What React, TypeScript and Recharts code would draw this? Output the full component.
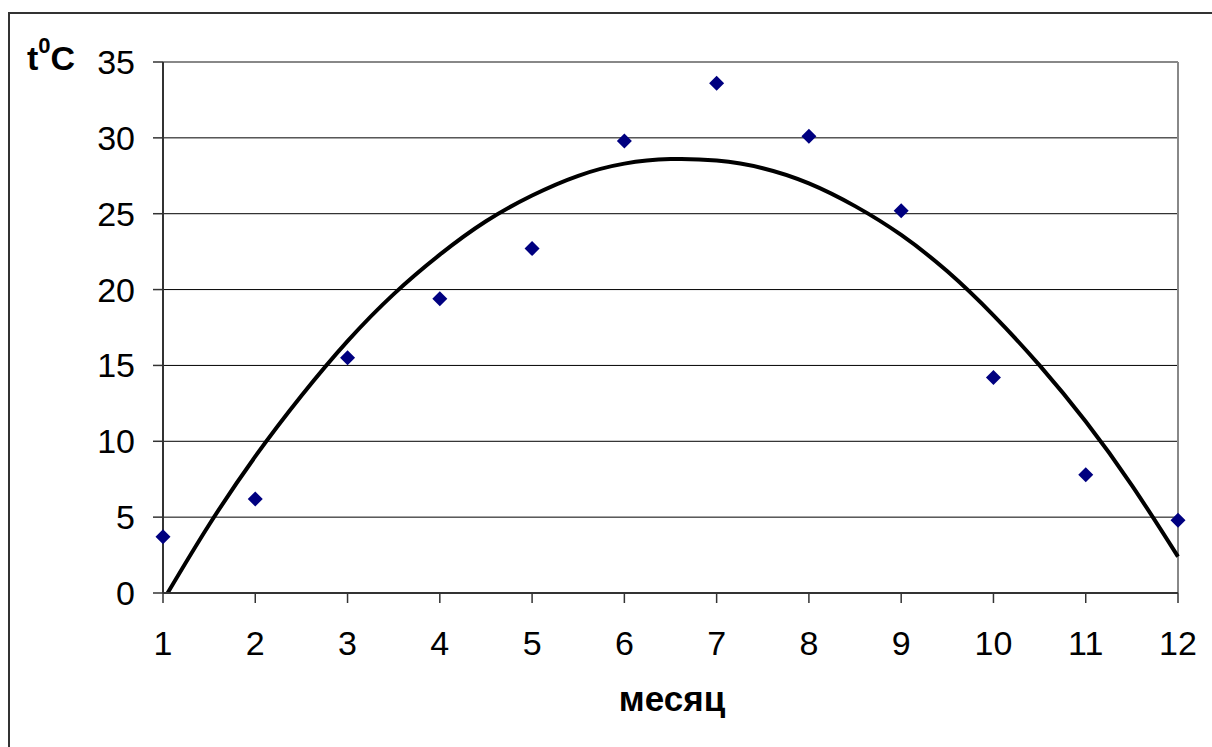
import React from 'react';
import {
  ComposedChart,
  Line,
  Scatter,
  XAxis,
  YAxis,
  CartesianGrid,
  ReferenceLine,
} from 'recharts';

// measured monthly temperatures
const months = [1, 2, 3, 4, 5, 6, 7, 8, 9, 10, 11, 12];
const temps = [3.7, 6.2, 15.5, 19.4, 22.7, 29.8, 33.6, 30.1, 25.2, 14.2, 7.8, 4.8];

// trend curve
const trendX = [1.05, 1.5, 2, 2.5, 3, 3.5, 4, 4.5, 5, 5.5, 6, 6.5, 7, 7.5, 8, 8.5, 9, 9.5, 10, 10.5, 11, 11.5, 12];
const trendY = [0, 4.5, 9.0, 13.0, 16.6, 19.7, 22.3, 24.5, 26.2, 27.5, 28.3, 28.6, 28.5, 28.0, 27.0, 25.5, 23.6, 21.2, 18.3, 15.0, 11.3, 7.1, 2.4];

const yTicks = [0, 5, 10, 15, 20, 25, 30, 35];

const points = months.map((m, i) => ({ x: m, t: temps[i] }));
const trend = trendX.map((x, i) => ({ x, t: trendY[i] }));

const FONT = '"Liberation Sans", Arial, sans-serif';

const Diamond = (props: any) => {
  const { cx, cy } = props;
  const r = 7.5;
  return (
    <polygon
      points={`${cx},${cy - r} ${cx + r},${cy} ${cx},${cy + r} ${cx - r},${cy}`}
      fill="#000080"
    />
  );
};

export default function App() {
  return (
    <div
      style={{
        position: 'absolute',
        left: 0,
        top: 0,
        width: 1212,
        height: 747,
        background: '#fff',
        fontFamily: FONT,
        overflow: 'hidden',
      }}
    >
      <div
        style={{
          position: 'absolute',
          left: 8,
          top: 12,
          width: 1230,
          height: 760,
          borderLeft: '2px solid #333',
          borderTop: '2px solid #333',
        }}
      />
      <ComposedChart
        width={1212}
        height={747}
        margin={{ top: 62, right: 34, left: 0, bottom: 0 }}
        style={{ position: 'absolute', left: 0, top: 0 }}
      >
        <CartesianGrid horizontal vertical={false} stroke="#000" strokeWidth={1} />
        <XAxis
          dataKey="x"
          type="number"
          domain={[1, 12]}
          ticks={months}
          height={154}
          tickSize={10}
          tickMargin={28}
          axisLine={{ stroke: '#333', strokeWidth: 2 }}
          tickLine={{ stroke: '#333', strokeWidth: 1.5 }}
          tick={{ fontSize: 34, fill: '#000', fontFamily: FONT }}
        />
        <YAxis
          type="number"
          domain={[0, 35]}
          ticks={yTicks}
          width={163}
          tickSize={10}
          tickMargin={18}
          axisLine={{ stroke: '#333', strokeWidth: 2 }}
          tickLine={{ stroke: '#333', strokeWidth: 1.5 }}
          tick={{ fontSize: 34, fill: '#000', fontFamily: FONT }}
        />
        <ReferenceLine y={35} stroke="#888" strokeWidth={2} ifOverflow="visible" />
        <ReferenceLine x={12} stroke="#888" strokeWidth={2} ifOverflow="visible" />
        <Line
          data={trend}
          dataKey="t"
          type="natural"
          stroke="#000"
          strokeWidth={4}
          dot={false}
          activeDot={false}
          isAnimationActive={false}
        />
        <Scatter
          data={points}
          dataKey="t"
          shape={<Diamond />}
          isAnimationActive={false}
        />
      </ComposedChart>
      <div
        style={{
          position: 'absolute',
          left: 27,
          top: 36,
          fontSize: 34,
          fontWeight: 'bold',
          lineHeight: '44px',
          color: '#000',
        }}
      >
        t<sup style={{ fontSize: 22, verticalAlign: 'top', lineHeight: '22px', position: 'relative', top: -1 }}>0</sup>C
      </div>
      <div
        style={{
          position: 'absolute',
          left: 0,
          width: 1344,
          top: 679,
          textAlign: 'center',
          fontSize: 35,
          fontWeight: 'bold',
          color: '#000',
        }}
      >
        месяц
      </div>
    </div>
  );
}
